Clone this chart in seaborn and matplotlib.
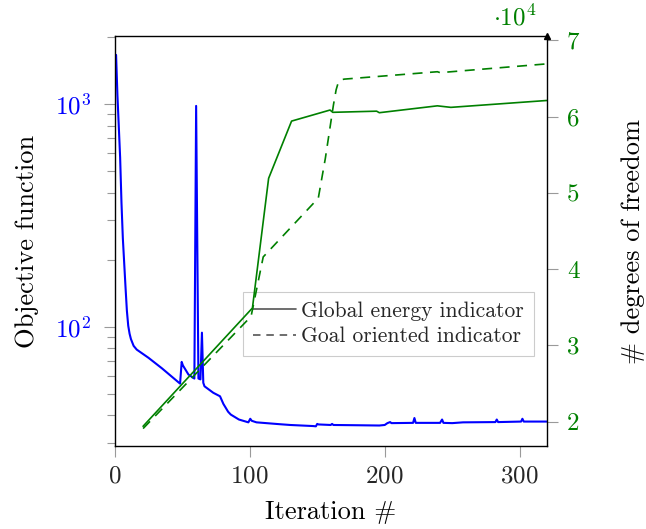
import matplotlib
matplotlib.use("Agg")
import matplotlib.pyplot as plt
import seaborn as sns
from matplotlib.lines import Line2D
from matplotlib.ticker import FuncFormatter, LogLocator, NullFormatter

# Objective function per optimisation iteration
obj_iter = [1, 2, 3, 4, 5, 6, 8, 9, 10, 11, 12, 14, 16.3, 25, 35, 48.4,
            49.6, 50.5, 54.6, 59.0, 60.3, 62.0, 63.5, 64.6, 65.6, 66.5,
            73, 78, 80.5, 84, 86, 92, 99, 100.4, 101.5, 105, 122, 130,
            147, 149, 150, 151, 160, 161, 162, 180, 196, 200, 202, 204,
            205, 221, 222, 223, 241, 242.5, 243.5, 250, 258, 282, 283,
            284, 301, 302, 303, 320]
obj_val = [1660, 1094, 794, 575, 360, 250, 150, 118, 101, 93, 88, 82, 78.9,
           72.5, 65.0, 55.5, 69.5, 67.0, 61.0, 58.5, 980, 58.5, 58.0, 94.0,
           56.0, 54.0, 50.5, 48.7, 45.0, 41.5, 40.3, 38.3, 37.2, 38.6, 37.8,
           37.2, 36.5, 36.2, 35.8, 35.7, 36.6, 36.4, 36.2, 36.6, 36.2, 36.1,
           36.0, 36.2, 36.9, 37.3, 36.9, 37.0, 38.9, 37.0, 37.0, 38.3, 37.0,
           36.9, 37.2, 37.3, 38.3, 37.3, 37.5, 38.6, 37.5, 37.5]

# Number of degrees of freedom for the two refinement strategies
energy_iter = [21, 102, 114, 131, 159.5, 161.5, 194, 196, 239, 249, 320]
energy_dof = [19400, 34900, 51900, 59400, 60850, 60550, 60700, 60500,
              61400, 61200, 62100]

goal_iter = [21, 101, 110, 150.8, 153, 156, 159, 162, 164, 165.5, 167.5,
             170, 239, 241, 320]
goal_dof = [19100, 33800, 41600, 49300, 51500, 54500, 58000, 61500, 63500,
            64400, 64800, 64900, 65870, 65750, 66900]

legend_labels = ["Global energy indicator", "Goal oriented indicator"]
x_ticks = [0, 100, 200, 300]
dof_ticks = [20000, 30000, 40000, 50000, 60000, 70000]

BLUE = "#0000ff"
GREEN = "#008000"
TICK_GRAY = "#9a9a9a"

sns.set_theme(style="white")
plt.rcParams["font.family"] = ["cmr10", "DejaVu Serif"]
plt.rcParams["mathtext.fontset"] = "cm"
plt.rcParams["axes.formatter.use_mathtext"] = True

fig = plt.figure(figsize=(6.46, 5.29), dpi=100)
ax1 = fig.add_axes([0.1776, 0.1569, 0.6687, 0.7750])

sns.lineplot(x=obj_iter, y=obj_val, ax=ax1, color=BLUE, linewidth=1.5,
             sort=False, estimator=None)
ax1.set_yscale("log")
ax1.set_xlim(0, 320)
ax1.set_ylim(29.13, 2018)
ax1.set_xticks(x_ticks)
ax1.yaxis.set_major_locator(LogLocator(base=10, numticks=10))
ax1.yaxis.set_minor_locator(LogLocator(base=10, subs=range(2, 10), numticks=20))
ax1.yaxis.set_minor_formatter(NullFormatter())

ax1.tick_params(axis="x", which="major", direction="out", length=8, width=0.8,
                color=TICK_GRAY, labelsize=18, pad=6, bottom=True, top=False)
ax1.tick_params(axis="y", which="major", direction="out", length=8, width=0.8,
                color=TICK_GRAY, labelsize=18, labelcolor=BLUE, pad=9, left=True)
ax1.tick_params(axis="y", which="minor", direction="out", length=5.5, width=0.8,
                color=TICK_GRAY, left=True)

for side in ["left", "bottom", "top"]:
    ax1.spines[side].set_color("black")
    ax1.spines[side].set_linewidth(1.0)
ax1.spines["right"].set_visible(False)

ax1.set_xlabel("Iteration #", fontsize=19, color="black")
ax1.set_ylabel("Objective function", fontsize=19, color="black")
ax1.xaxis.label.set_va("center")
ax1.xaxis.set_label_coords(0.5, -0.161)
ax1.yaxis.label.set_va("center")
ax1.yaxis.label.set_ha("center")
ax1.yaxis.set_label_coords(-0.203, 0.5)

handles = [Line2D([], [], color="#555555", lw=1.2),
           Line2D([], [], color="#555555", lw=1.2, linestyle=(0, (4.5, 3.5)))]
leg = ax1.legend(handles, legend_labels, loc="upper left",
                 bbox_to_anchor=(243.3 / 646, 1 - 291.7 / 529),
                 bbox_transform=fig.transFigure, borderaxespad=0,
                 fontsize=15.5, frameon=True, fancybox=False, framealpha=1,
                 edgecolor="#cccccc", handlelength=2.0, handletextpad=0.25,
                 labelspacing=0.28, borderpad=0.45)
leg.get_frame().set_linewidth(0.8)

# Degrees of freedom on the secondary axis
ax2 = ax1.twinx()
sns.lineplot(x=energy_iter, y=energy_dof, ax=ax2, color=GREEN, linewidth=1.2,
             sort=False, estimator=None)
sns.lineplot(x=goal_iter, y=goal_dof, ax=ax2, color=GREEN, linewidth=1.2,
             sort=False, estimator=None, linestyle=(0, (6, 4.5)))
ax2.set_ylim(16815, 70550)
ax2.set_yticks(dof_ticks)
ax2.yaxis.set_major_formatter(FuncFormatter(lambda v, p: f"{v / 1e4:g}"))
ax2.tick_params(axis="y", which="major", direction="out", length=8, width=0.8,
                color=TICK_GRAY, labelsize=18, labelcolor=GREEN, pad=6.5,
                right=True)
for side in ["left", "bottom", "top"]:
    ax2.spines[side].set_visible(False)
ax2.spines["right"].set_color("black")
ax2.spines["right"].set_linewidth(1.0)
ax2.plot([1], [1.0], marker="^", markersize=5, color="black",
         transform=ax2.transAxes, clip_on=False)

ax2.set_ylabel("# degrees of freedom", fontsize=19, color="black")
ax2.yaxis.label.set_va("center")
ax2.yaxis.label.set_ha("center")
ax2.yaxis.label.set_rotation(90)
ax2.yaxis.set_label_coords(1.2, 0.5)

fig.text(493 / 646, 1 - 25 / 529, r"$\cdot 10^{4}$", color=GREEN, fontsize=18,
         ha="left", va="baseline")

fig.savefig("out.png", dpi=100)
